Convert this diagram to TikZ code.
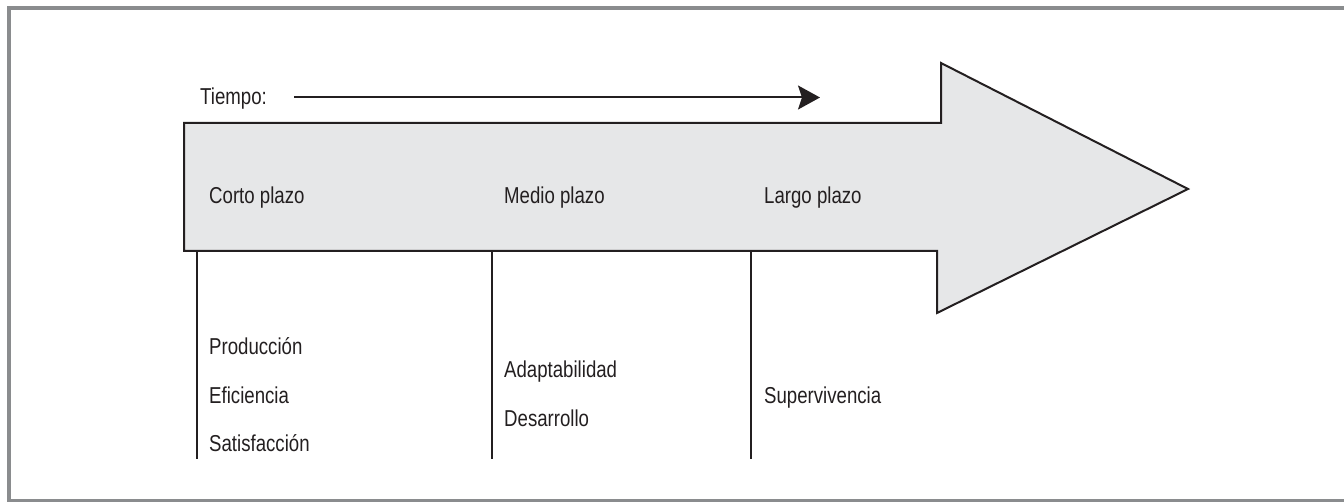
\documentclass[tikz,border=0pt]{standalone}
\usepackage{fontspec}
\setmainfont{Liberation Sans}[FakeStretch=0.81]
\usepackage{xcolor}
\usetikzlibrary{calc, arrows.meta, positioning}
\definecolor{frameGray}{HTML}{8A8C8E}
\definecolor{arrowFill}{HTML}{E6E7E8}
\definecolor{inkBlack}{HTML}{231F20}
\tikzstyle{plazo} = [anchor=base west, 
inner sep=0pt, 
text=inkBlack, 
font=\fontsize{23}{27}\selectfont]
\tikzstyle{bigArrow} = [draw=inkBlack, 
fill=arrowFill, 
line width=2pt, 
line join=miter]
\tikzstyle{divider} = [draw=inkBlack, line width=1.2pt]
\tikzstyle{frame} = [draw=frameGray, line width=4pt]
\tikzstyle{arrow} = [draw=inkBlack, line width=2pt, -{Stealth[length=22pt, width=24pt, inset=4pt]}]

\begin{document}
\begin{tikzpicture}[x=1pt, y=-1pt]
			\useasboundingbox (0,0) rectangle (1344,502);
			\draw [frame] (1344,8.5) -- (9,8.5) -- (9,500.5) -- (1344,500.5);
			
			\node (tiempo) [plazo] at (200,105) {Tiempo:};
			\coordinate (tStart) at (294,97.5);
			\coordinate (tEnd) at (820,97.5);
			\draw [arrow] (tStart) -- (tEnd);
			
			\draw [divider] (197,251) coordinate (dCorto) -- ++(0,208);
			\draw [divider] (492,251) coordinate (dMedio) -- ++(0,208);
			\draw [divider] (751,251) coordinate (dLargo) -- ++(0,208);
			
			% flecha grande
			\draw [bigArrow] (184,123) -- (941,123) -- (941,63) -- (1188,189) -- (937,313) -- (937,251) -- (184,251) -- cycle;
			
			\node (corto) [plazo] at (209,204) {Corto plazo};
			\node (medio) [plazo] at (504,204) {Medio plazo};
			\node (largo) [plazo] at (764,204) {Largo plazo};
			
			\node (prod) [plazo] at (209,355) {Producción};
			\node (efic) [plazo] at (209,403) {Eficiencia};
			\node (satis) [plazo] at (209,451) {Satisfacción};
			
			\node (adapt) [plazo] at (504,378) {Adaptabilidad};
			\node (desarr) [plazo] at (504,427) {Desarrollo};
			
			\node (superv) [plazo] at (764,403) {Supervivencia};
		\end{tikzpicture}
\end{document}
